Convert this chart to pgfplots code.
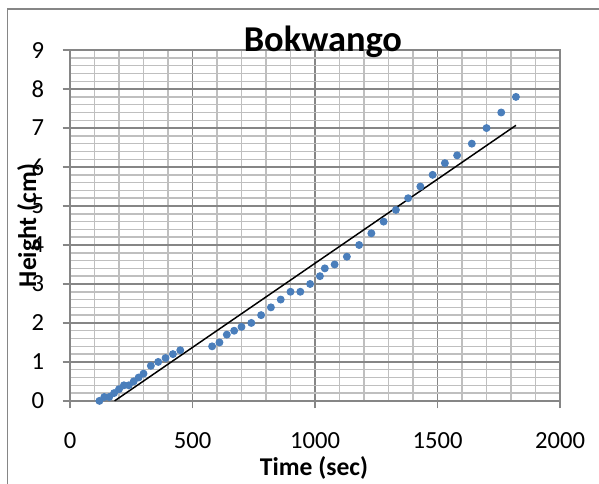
\documentclass[border=0pt]{standalone}
\usepackage{pgfplots}
\pgfplotsset{compat=1.18}
\usepackage{fontspec}
\setmainfont{Carlito}
\definecolor{excelblue}{RGB}{74,126,187}
\definecolor{majgrid}{RGB}{134,134,134}
\definecolor{mingrid}{RGB}{191,191,191}

\begin{document}
\begin{tikzpicture}
\useasboundingbox (0,0) rectangle (243.5pt,196.7pt);
% chart frame (only left and top edge visible)
\draw[majgrid, line width=0.5pt] (2.97pt,-2pt) -- (2.97pt,193.0pt) -- (246pt,193.0pt);
\begin{axis}[
  at={(28.46pt,33.74pt)}, anchor=south west,
  scale only axis, width=199.2pt, height=142.6pt,
  xmin=0, xmax=2000, ymin=0, ymax=9,
  xtick={0,500,...,2000}, ytick={0,1,...,9},
  minor x tick num=4, minor y tick num=4,
  grid=both,
  major grid style={majgrid, line width=0.6pt},
  minor grid style={mingrid, line width=0.6pt},
  axis line style={majgrid, line width=0.6pt},
  tick pos=left, tick align=outside,
  major tick length=3pt, minor tick length=0pt,
  tick style={majgrid, line width=0.6pt},
  ticklabel style={font=\fontsize{10}{12}\selectfont},
  xticklabel style={yshift=-6.4pt},
  yticklabel style={xshift=-4pt},
  /pgf/number format/assume math mode=true,
  /pgf/number format/1000 sep={},
  xlabel={Time (sec)},
  xlabel style={font=\bfseries\fontsize{10.4}{12}\selectfont,
    at={(axis description cs:0.498,-0.212)}, anchor=base},
  ylabel={Height (cm)},
  ylabel style={font=\bfseries\fontsize{10.4}{12}\selectfont,
    at={(axis description cs:-0.0694,0.5)}, anchor=base},
  clip=false,
]
\addplot[only marks, mark=*, mark size=1.4pt,
  mark options={fill=excelblue, draw=excelblue}]
table{
120 0
140 0.1
160 0.1
180 0.2
200 0.3
220 0.4
240 0.4
260 0.5
280 0.6
300 0.7
330 0.9
360 1.0
390 1.1
420 1.2
450 1.3
580 1.4
610 1.5
640 1.7
670 1.8
700 1.9
740 2.0
780 2.2
820 2.4
860 2.6
900 2.8
940 2.8
980 3.0
1020 3.2
1040 3.4
1080 3.5
1130 3.7
1180 4.0
1230 4.3
1280 4.6
1330 4.9
1380 5.2
1430 5.5
1480 5.8
1530 6.1
1580 6.3
1640 6.6
1700 7.0
1760 7.4
1820 7.8
};
% linear trendline
\addplot[black, line width=0.6pt] table{
182 0
1820 7.07
};
\node[anchor=base, font=\bfseries\fontsize{14.8}{17}\selectfont]
  at (axis description cs:0.516,0.996) {Bokwango};
\end{axis}
\end{tikzpicture}
\end{document}
